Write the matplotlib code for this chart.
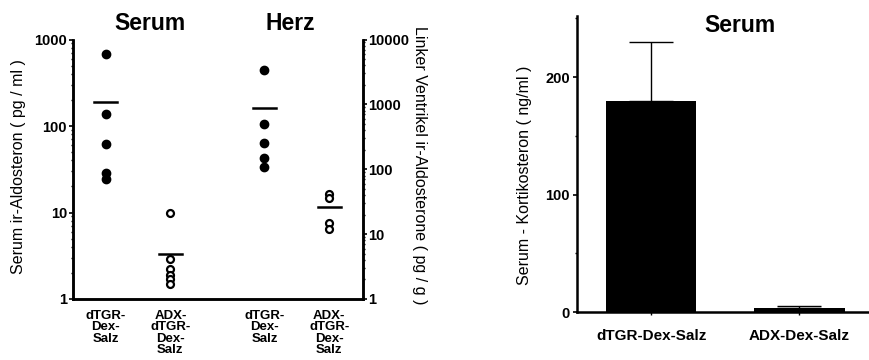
import matplotlib
matplotlib.use("Agg")
import matplotlib.pyplot as plt
import numpy as np
from matplotlib.ticker import FuncFormatter, NullFormatter

plt.rcParams['font.family'] = ['Liberation Sans', 'DejaVu Sans']

# ---- Data ----
group_labels = ["dTGR-\nDex-\nSalz", "ADX-\ndTGR-\nDex-\nSalz", "dTGR-\nDex-\nSalz", "ADX-\ndTGR-\nDex-\nSalz"]
serum_dtgr = [683, 138, 62, 29, 24.5]
serum_adx = [10.0, 2.9, 2.2, 1.9, 1.7, 1.5]
herz_dtgr = [3440, 505, 254, 150, 109]
herz_adx = [42, 36, 14.9, 12.1]
serum_means = [188, 3.3]
herz_means = [890, 26.5]

bar_labels = ["dTGR-Dex-Salz", "ADX-Dex-Salz"]
kort_values = [180, 3]
kort_err = [50, 2]

W, H = 869, 360
fig = plt.figure(figsize=(W / 100, H / 100), dpi=100)

def px(x0, y0, x1, y1):
    return [x0 / W, 1 - y1 / H, (x1 - x0) / W, (y1 - y0) / H]

TICK_FS = 10.5
LABEL_FS = 11.5
TITLE_FS = 16.5

# ---- Left panel ----
ax1 = fig.add_axes(px(72.5, 39.5, 363, 299))
ax2 = ax1.twinx()
pos = [0, 1, 2.45, 3.45]
ax1.set_xlim(-0.51, 3.97)
ax1.set_yscale('log')
ax1.set_ylim(1, 1000)
ax2.set_yscale('log')
ax2.set_ylim(1, 10000)

ms = 6
ax1.plot([pos[0]] * len(serum_dtgr), serum_dtgr, 'o', color='black', ms=ms, ls='none')
ax1.plot([pos[1]] * len(serum_adx), serum_adx, 'o', mfc='white', mec='black', mew=1.6, ms=5, ls='none')
ax2.plot([pos[2]] * len(herz_dtgr), herz_dtgr, 'o', color='black', ms=ms, ls='none')
ax2.plot([pos[3]] * len(herz_adx), herz_adx, 'o', mfc='white', mec='black', mew=1.6, ms=5, ls='none')

hw = 0.18
for p, m in zip(pos[:2], serum_means):
    ax1.plot([p - hw, p + hw], [m, m], color='black', lw=1.8)
for p, m in zip(pos[2:], herz_means):
    ax2.plot([p - hw, p + hw], [m, m], color='black', lw=1.8)

for ax in (ax1, ax2):
    ax.spines['top'].set_visible(False)
    for s in ('left', 'right', 'bottom'):
        ax.spines[s].set_linewidth(1.8)

ax1.set_xticks(pos)
ax1.set_xticklabels(group_labels, fontsize=9.5, fontweight='bold', linespacing=0.92, va='top')
ax1.tick_params(axis='x', length=0, pad=8)
for ax in (ax1, ax2):
    ax.tick_params(axis='y', which='major', length=3, width=1.2, labelsize=TICK_FS, pad=1)
    ax.tick_params(axis='y', which='minor', length=1.5, width=1)
fmt = FuncFormatter(lambda v, p: f"{int(round(v))}")
ax1.yaxis.set_major_formatter(fmt)
ax2.yaxis.set_major_formatter(fmt)
ax1.yaxis.set_minor_formatter(NullFormatter())
ax2.yaxis.set_minor_formatter(NullFormatter())
for lab in ax1.get_yticklabels() + ax2.get_yticklabels():
    lab.set_fontweight('bold')

fig.text(19 / W, 1 - 167 / H, "Serum ir-Aldosteron ( pg / ml )", rotation=90,
         ha='center', va='center', fontsize=LABEL_FS)
fig.text(419 / W, 1 - 165 / H, "Linker Ventrikel ir-Aldosterone ( pg / g )", rotation=-90,
         ha='center', va='center', fontsize=LABEL_FS)
fig.text(150 / W, 1 - 23 / H, "Serum", ha='center', va='center', fontsize=TITLE_FS, fontweight='bold')
fig.text(290 / W, 1 - 23 / H, "Herz", ha='center', va='center', fontsize=TITLE_FS, fontweight='bold')

# ---- Right panel ----
ax3 = fig.add_axes(px(577, 16, 869, 312))
xb = np.arange(len(bar_labels))
ax3.bar(xb, kort_values, width=0.61, color='black',
        yerr=[[0] * len(kort_err), kort_err], error_kw=dict(ecolor='black', elinewidth=1, capsize=16, capthick=1))
ax3.set_xlim(-0.5, 1.47)
ax3.set_ylim(0, 252)
ax3.spines['top'].set_visible(False)
ax3.spines['right'].set_visible(False)
ax3.spines['left'].set_linewidth(1.8)
ax3.spines['bottom'].set_linewidth(1.8)
ax3.set_yticks([0, 100, 200])
ax3.set_yticks([50, 150, 250], minor=True)
ax3.set_xticks(xb)
ax3.set_xticklabels(bar_labels, fontsize=11, fontweight='bold')
ax3.tick_params(axis='x', length=2, width=1, pad=10)
ax3.tick_params(axis='y', which='major', length=3, width=1.2, labelsize=TICK_FS, pad=2)
ax3.tick_params(axis='y', which='minor', length=1.5, width=1)
for lab in ax3.get_yticklabels():
    lab.set_fontweight('bold')
fig.text(525 / W, 1 - 175 / H, "Serum - Kortikosteron ( ng/ml )", rotation=90,
         ha='center', va='center', fontsize=LABEL_FS)
fig.text(740 / W, 1 - 25 / H, "Serum", ha='center', va='center', fontsize=TITLE_FS, fontweight='bold')

fig.savefig("out.png", dpi=100)
